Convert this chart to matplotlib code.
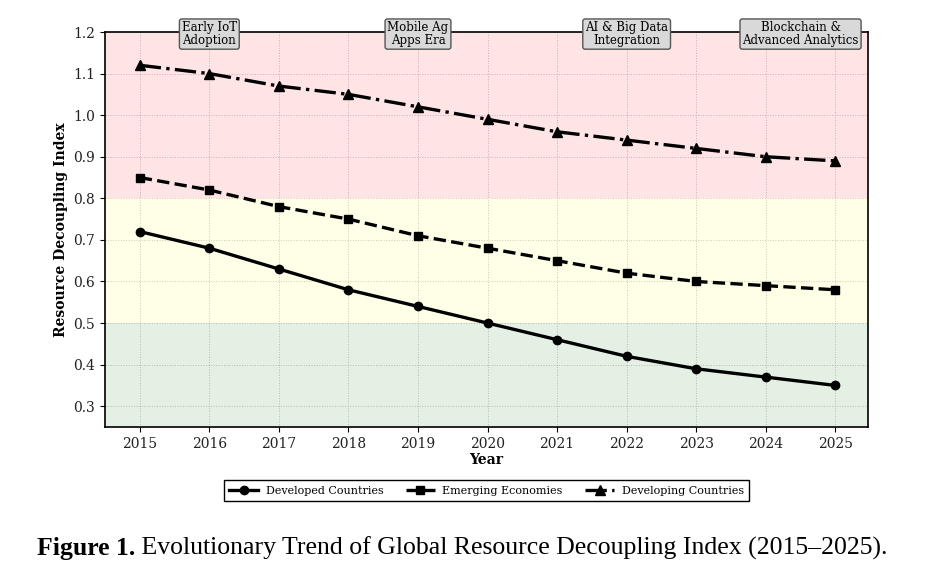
import matplotlib
matplotlib.use("Agg")
import matplotlib.pyplot as plt

years = [2015, 2016, 2017, 2018, 2019, 2020, 2021, 2022, 2023, 2024, 2025]
developed = [0.72, 0.68, 0.63, 0.58, 0.54, 0.50, 0.46, 0.42, 0.39, 0.37, 0.35]
emerging = [0.85, 0.82, 0.78, 0.75, 0.71, 0.68, 0.65, 0.62, 0.60, 0.59, 0.58]
developing = [1.12, 1.10, 1.07, 1.05, 1.02, 0.99, 0.96, 0.94, 0.92, 0.90, 0.89]

phase_x = [2016, 2019, 2022, 2024.5]
phase_labels = ["Early IoT\nAdoption", "Mobile Ag\nApps Era",
                "AI & Big Data\nIntegration", "Blockchain &\nAdvanced Analytics"]

plt.rcParams['font.family'] = 'DejaVu Serif'

fig = plt.figure(figsize=(9.3, 5.74), dpi=100)
ax = fig.add_axes([105 / 930, 1 - 427 / 574, 763 / 930, 395 / 574])

# zones
ax.axhspan(0.25, 0.5, color='#2e8b2e', alpha=0.12, lw=0)
ax.axhspan(0.5, 0.8, color='#ffff66', alpha=0.15, lw=0)
ax.axhspan(0.8, 1.2, color='#ff3344', alpha=0.13, lw=0)

ax.plot(years, developed, 'k-', marker='o', lw=2.4, ms=6, label='Developed Countries')
ax.plot(years, emerging, 'k--', marker='s', lw=2.4, ms=6, label='Emerging Economies')
ax.plot(years, developing, 'k-.', marker='^', lw=2.4, ms=7, label='Developing Countries')

ax.set_xlim(2014.5, 2025.47)
ax.set_ylim(0.25, 1.2)
ax.set_xticks(years)
ax.set_yticks([0.3, 0.4, 0.5, 0.6, 0.7, 0.8, 0.9, 1.0, 1.1, 1.2])
ax.tick_params(labelsize=10, labelcolor='#222222')
ax.grid(True, ls=':', lw=0.7, color='#aaaaaa', alpha=0.7)
ax.set_axisbelow(True)
for s in ax.spines.values():
    s.set_linewidth(1.2)
ax.set_xlabel('Year', fontsize=10, fontweight='bold', labelpad=2)
ax.set_ylabel('Resource Decoupling Index', fontsize=10, fontweight='bold')

for x, lab in zip(phase_x, phase_labels):
    ax.text(x, 1.195, lab, ha='center', va='center', fontsize=8.5, linespacing=0.95,
            bbox=dict(boxstyle='round,pad=0.2', fc='#d9d9d9', ec='#555555', lw=1),
            clip_on=False, zorder=5)

ax.legend(loc='upper center', bbox_to_anchor=(0.5, -0.12), ncol=3, fontsize=8,
          frameon=True, fancybox=False, edgecolor='black', framealpha=1,
          borderpad=0.5, handlelength=2.6, handletextpad=0.7, columnspacing=2.0)

t1 = fig.text(37 / 930, 1 - 555 / 574, 'Figure 1.', fontsize=18.5, fontweight='bold',
              family='Liberation Serif')
ax.annotate(' Evolutionary Trend of Global Resource Decoupling Index (2015\u20132025).',
            xy=(1, 0), xycoords=t1, va='bottom', fontsize=18.5,
            family='Liberation Serif', annotation_clip=False)

fig.savefig('out.png', dpi=100)
